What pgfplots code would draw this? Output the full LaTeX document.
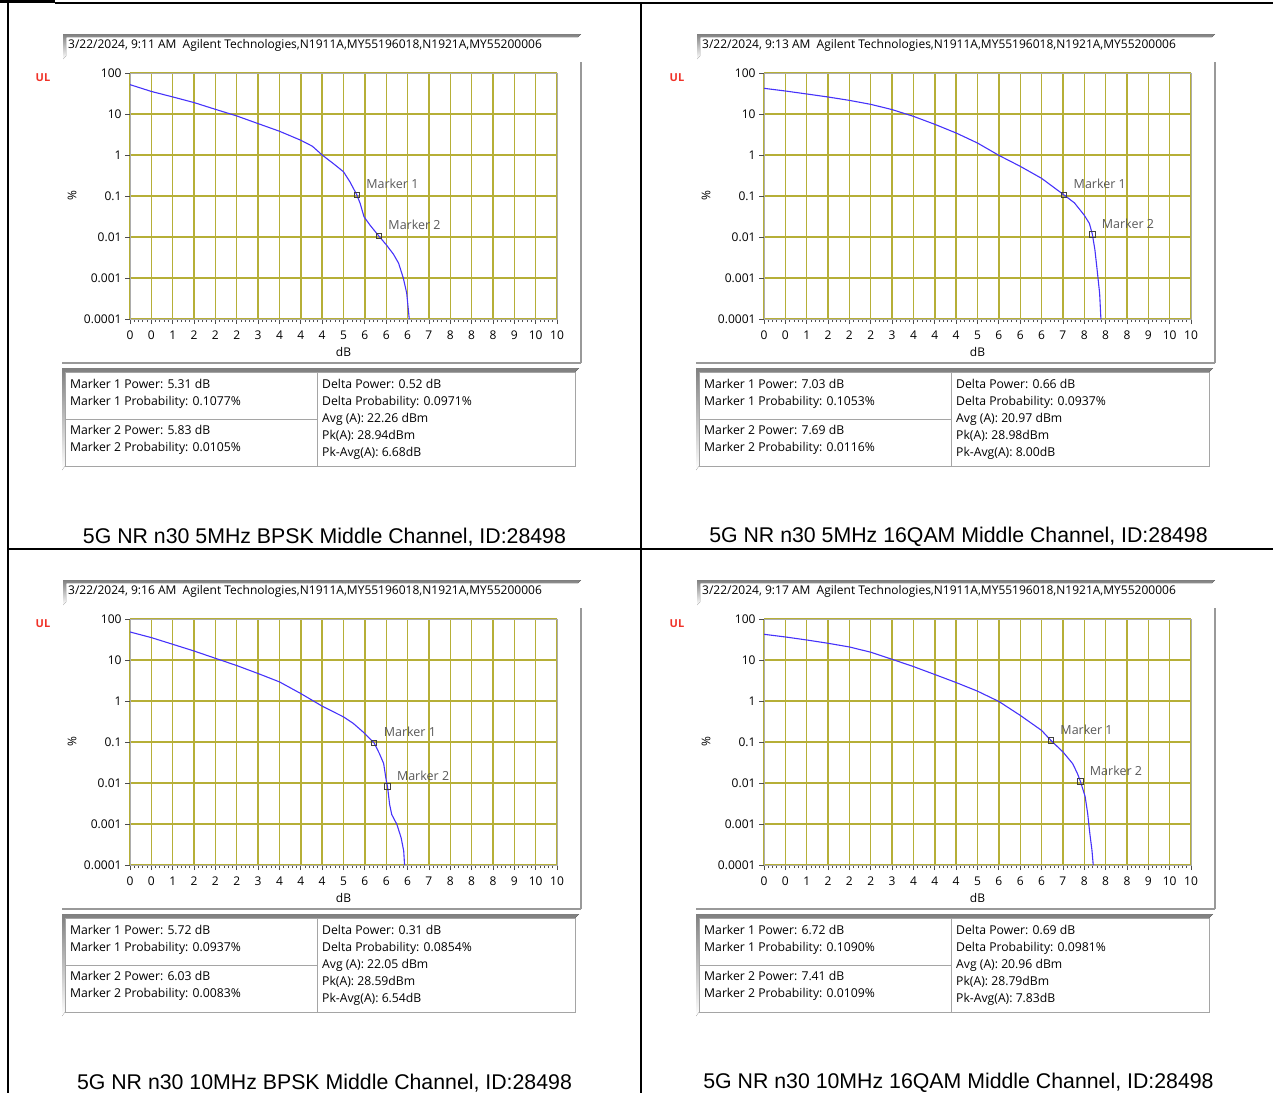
\documentclass[border=0pt]{standalone}
\usepackage{fontspec}
\usepackage{pgfplots}
\pgfplotsset{compat=1.18}
\usepackage{pgfplotstable}
\setmainfont{Open Sans}
\newfontfamily\arial{Liberation Sans}

\definecolor{gridc}{RGB}{182,175,55}
\definecolor{curvec}{RGB}{70,50,250}
\definecolor{ulred}{RGB}{240,50,40}
\definecolor{shade}{RGB}{222,222,222}
\definecolor{boxc}{RGB}{165,165,165}

\newcommand{\tk}{\fontsize{12bp}{14bp}\selectfont}
\newcommand{\sm}{\fontsize{12.2bp}{16.9bp}\selectfont}

% CCDF curves, dB vs %
\pgfplotstableread{
db pct
0 52
0.5 35.5
1.0 26.1
1.5 19.0
2.0 13.0
2.5 8.97
3.0 5.83
3.5 3.80
4.0 2.29
4.27 1.64
4.5 1.0
4.76 0.62
5.0 0.39
5.15 0.222
5.31 0.1077
5.39 0.066
5.48 0.0312
5.62 0.0195
5.83 0.0105
6.01 0.0063
6.17 0.0038
6.29 0.0023
6.4 0.001
6.48 0.00043
6.54 0.0001
}\ccdfA
\pgfplotstableread{
db pct
0 42.3
0.5 36.4
1.0 30.8
1.5 26.0
2.0 21.5
2.5 17.2
3.0 12.8
3.5 8.77
4.0 5.60
4.5 3.44
5.0 1.96
5.5 0.98
6.0 0.53
6.5 0.27
7.03 0.1053
7.27 0.068
7.5 0.034
7.62 0.0214
7.69 0.0116
7.75 0.0048
7.81 0.0013
7.86 0.00042
7.89 0.0001
}\ccdfB
\pgfplotstableread{
db pct
0 48.3
0.5 35.2
1.0 24.2
1.5 16.6
2.0 11.0
2.5 7.33
3.0 4.68
3.5 2.93
4.0 1.52
4.5 0.75
5.0 0.41
5.23 0.284
5.48 0.168
5.72 0.0937
5.84 0.0525
5.94 0.030
6.0 0.0117
6.03 0.0083
6.08 0.0030
6.13 0.0017
6.25 0.00098
6.35 0.00046
6.41 0.00022
6.43 0.0001
}\ccdfC
\pgfplotstableread{
db pct
0 42.4
0.5 36.5
1.0 30.8
1.5 25.6
2.0 20.8
2.5 15.5
3.0 10.4
3.5 6.92
4.0 4.43
4.5 2.82
5.0 1.74
5.5 0.975
6.0 0.447
6.5 0.192
6.72 0.109
7.0 0.0575
7.23 0.0295
7.34 0.017
7.41 0.0109
7.52 0.0047
7.58 0.0018
7.63 0.00059
7.68 0.00023
7.71 0.0001
}\ccdfD

\pgfplotsset{
  ccdfaxis/.style={
    scale only axis, width=427bp, height=246bp, anchor=south west,
    xmin=0, xmax=10, ymin=1e-4, ymax=100,
    xtick={0,0.5,1,1.5,2,2.5,3,3.5,4,4.5,5,5.5,6,6.5,7,7.5,8,8.5,9,9.5,10},
    xticklabels={0,0,1,2,2,2,3,4,4,4,5,6,6,6,7,8,8,8,9,10,10},
    minor x tick num=4,
    ytick={0.0001,0.001,0.01,0.1,1,10,100},
    yticklabels={0.0001,0.001,0.01,0.1,1,10,100},
    yminorticks=false,
    tick pos=left, tick align=outside,
    major tick length=5bp, minor tick length=3bp,
    every tick/.style={gray!60!black, line width=0.8bp},
    xmajorgrids, ymajorgrids,
    major grid style={gridc, line width=1.4bp},
    axis line style={gray!65, line width=1bp},
    ticklabel style={font=\tk, text=black},
    xticklabel style={yshift=-3.5bp},
    xlabel={dB},
    xlabel style={font=\tk, at={(rel axis cs:0.5,0)}, anchor=center, yshift=-33bp},
  },
}
\tikzset{
  ccdfline/.style={curvec, line width=1.1bp},
  ccdfmark/.style={only marks, mark=square, mark size=2.6bp, black!75, line width=0.8bp},
  mlab/.style={anchor=west, xshift=6bp, yshift=11bp, text=black!65, font=\fontsize{12.5bp}{14bp}\selectfont},
}

% frame, header and info box of one panel
% #1 dx, #2 dy, #3 header, #4 marker 1 text, #5 marker 2 text, #6 summary, #7 caption
\newcommand{\panel}[7]{%
\begin{scope}[x=1bp, y=-1bp, shift={(#1,#2)}]
  \node[text=ulred, font=\bfseries\fontsize{11bp}{12bp}\selectfont] at (43,78) {UL};
  \fill[shade] (63,34) -- (581,34) -- (578,37) -- (66,37) -- (66,56) -- (63,59) -- cycle;
  \node[anchor=west, font=\fontsize{12bp}{13bp}\selectfont, inner sep=0] at (68,45.5) {#3};
  \draw[gray!80, line width=1.3bp] (581,62) -- (581,363);
  \draw[gray!80, line width=1.3bp] (62,363) -- (581,363);
  \node[rotate=90, font=\tk] at (72,196) {\%};
  \fill[shade] (62,368) -- (579,368) -- (575,372) -- (65,372) -- (65,466) -- (62,470) -- cycle;
  \draw[boxc, line width=1bp] (65,372) rectangle (575,466);
  \draw[boxc, line width=1bp] (317,372) -- (317,466);
  \draw[boxc, line width=1bp] (65,419.5) -- (317,419.5);
  \node[anchor=north west, align=left, font=\sm, inner sep=0] at (70,379) {#4};
  \node[anchor=north west, align=left, font=\sm, inner sep=0] at (70,425) {#5};
  \node[anchor=north west, align=left, font=\sm, inner sep=0] at (322,379) {#6};
  \node[font=\arial\fontsize{21.3bp}{24bp}\selectfont] at (324.5,537) {#7};
\end{scope}}

\begin{document}
\begin{tikzpicture}
\begin{scope}[x=1bp, y=-1bp]
  \useasboundingbox (0,0) rectangle (1273,1093);
  \fill[black] (0,0) rectangle (55,3);
  \draw[line width=2bp] (55,2.5) -- (1273,2.5);
  \draw[line width=2bp] (7.5,2) -- (7.5,1093);
  \draw[line width=2bp] (641,2) -- (641,1093);
  \draw[line width=2bp] (7,548.5) -- (1273,548.5);
\end{scope}

\panel{0}{0}{3/22/2024, 9:11 AM\ \ Agilent Technologies,N1911A,MY55196018,N1921A,MY55200006}
  {Marker 1 Power: 5.31 dB\\Marker 1 Probability: 0.1077\%}
  {Marker 2 Power: 5.83 dB\\Marker 2 Probability: 0.0105\%}
  {Delta Power: 0.52 dB\\Delta Probability: 0.0971\%\\Avg (A): 22.26 dBm\\Pk(A): 28.94dBm\\Pk-Avg(A): 6.68dB}
  {5G NR n30 5MHz BPSK Middle Channel, ID:28498}
\panel{634}{0}{3/22/2024, 9:13 AM\ \ Agilent Technologies,N1911A,MY55196018,N1921A,MY55200006}
  {Marker 1 Power: 7.03 dB\\Marker 1 Probability: 0.1053\%}
  {Marker 2 Power: 7.69 dB\\Marker 2 Probability: 0.0116\%}
  {Delta Power: 0.66 dB\\Delta Probability: 0.0937\%\\Avg (A): 20.97 dBm\\Pk(A): 28.98dBm\\Pk-Avg(A): 8.00dB}
  {5G NR n30 5MHz 16QAM Middle Channel, ID:28498}
\panel{0}{546}{3/22/2024, 9:16 AM\ \ Agilent Technologies,N1911A,MY55196018,N1921A,MY55200006}
  {Marker 1 Power: 5.72 dB\\Marker 1 Probability: 0.0937\%}
  {Marker 2 Power: 6.03 dB\\Marker 2 Probability: 0.0083\%}
  {Delta Power: 0.31 dB\\Delta Probability: 0.0854\%\\Avg (A): 22.05 dBm\\Pk(A): 28.59dBm\\Pk-Avg(A): 6.54dB}
  {5G NR n30 10MHz BPSK Middle Channel, ID:28498}
\panel{634}{546}{3/22/2024, 9:17 AM\ \ Agilent Technologies,N1911A,MY55196018,N1921A,MY55200006}
  {Marker 1 Power: 6.72 dB\\Marker 1 Probability: 0.1090\%}
  {Marker 2 Power: 7.41 dB\\Marker 2 Probability: 0.0109\%}
  {Delta Power: 0.69 dB\\Delta Probability: 0.0981\%\\Avg (A): 20.96 dBm\\Pk(A): 28.79dBm\\Pk-Avg(A): 7.83dB}
  {5G NR n30 10MHz 16QAM Middle Channel, ID:28498}

\begin{semilogyaxis}[ccdfaxis, at={(130bp,-319bp)}]
  \addplot[ccdfline] table[x=db, y=pct] {\ccdfA};
  \addplot[ccdfmark] coordinates {(5.31,0.1077) (5.83,0.0105)};
  \node[mlab] at (axis cs:5.31,0.1077) {Marker 1};
  \node[mlab] at (axis cs:5.83,0.0105) {Marker 2};
\end{semilogyaxis}
\begin{semilogyaxis}[ccdfaxis, at={(764bp,-319bp)}]
  \addplot[ccdfline] table[x=db, y=pct] {\ccdfB};
  \addplot[ccdfmark] coordinates {(7.03,0.1053) (7.69,0.0116)};
  \node[mlab] at (axis cs:7.03,0.1053) {Marker 1};
  \node[mlab] at (axis cs:7.69,0.0116) {Marker 2};
\end{semilogyaxis}
\begin{semilogyaxis}[ccdfaxis, at={(130bp,-865bp)}]
  \addplot[ccdfline] table[x=db, y=pct] {\ccdfC};
  \addplot[ccdfmark] coordinates {(5.72,0.0937) (6.03,0.0083)};
  \node[mlab] at (axis cs:5.72,0.0937) {Marker 1};
  \node[mlab] at (axis cs:6.03,0.0083) {Marker 2};
\end{semilogyaxis}
\begin{semilogyaxis}[ccdfaxis, at={(764bp,-865bp)}]
  \addplot[ccdfline] table[x=db, y=pct] {\ccdfD};
  \addplot[ccdfmark] coordinates {(6.72,0.109) (7.41,0.0109)};
  \node[mlab] at (axis cs:6.72,0.109) {Marker 1};
  \node[mlab] at (axis cs:7.41,0.0109) {Marker 2};
\end{semilogyaxis}
\end{tikzpicture}
\end{document}
